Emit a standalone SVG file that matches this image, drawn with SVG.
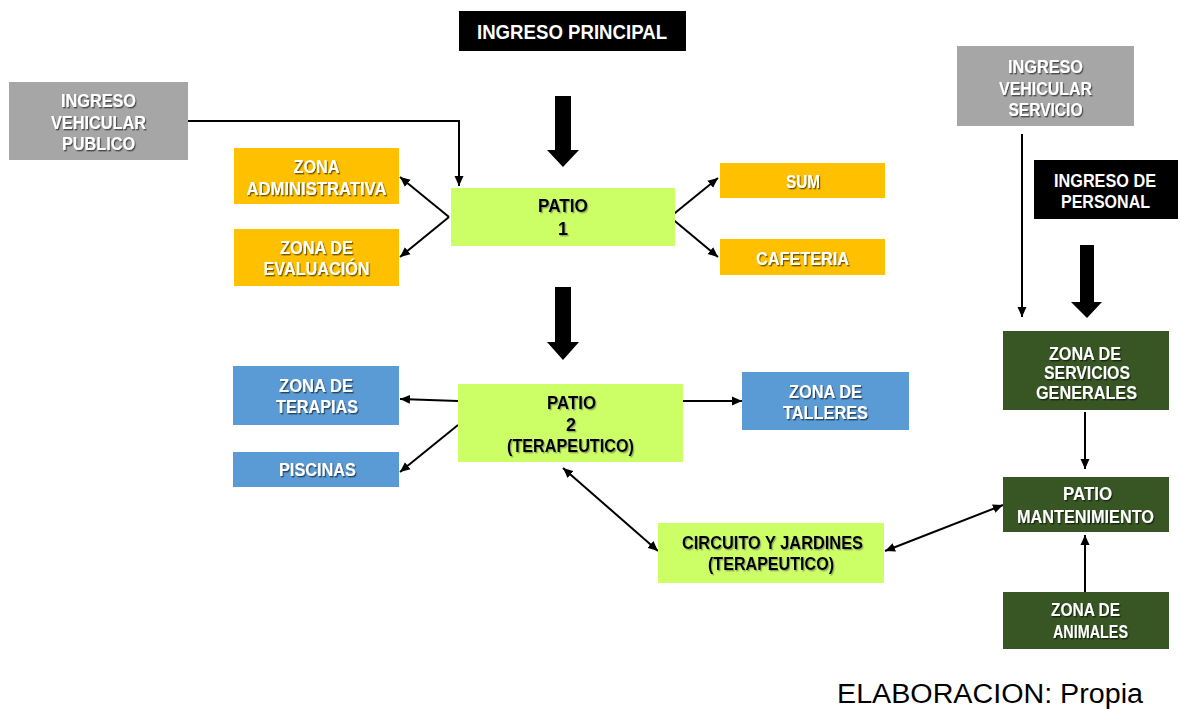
<svg xmlns="http://www.w3.org/2000/svg" width="1180" height="709" viewBox="0 0 1180 709">
<style>
text{font-family:"Liberation Sans",Arial,sans-serif;font-weight:bold;text-anchor:middle;font-size:18px}
.w{fill:#ffffff;filter:url(#shw)}
.k{fill:#000000;filter:url(#shk)}
.grey{fill:#a6a6a6}
.org{fill:#ffc000}
.lime{fill:#ccff66}
.blue{fill:#5b9bd5}
.dg{fill:#375623}
.blk{fill:#000000}
.con{stroke:#000;stroke-width:2;fill:none}
.big{fill:#000}
</style>
<defs>
<filter id="shw" x="-10%" y="-30%" width="130%" height="170%">
<feDropShadow dx="1.2" dy="1.4" stdDeviation="0.7" flood-color="#000" flood-opacity="0.55"/>
</filter>
<filter id="shk" x="-10%" y="-30%" width="130%" height="170%">
<feDropShadow dx="1.2" dy="1.4" stdDeviation="0.7" flood-color="#555" flood-opacity="0.5"/>
</filter>
<marker id="ah" markerUnits="userSpaceOnUse" markerWidth="11" markerHeight="10" refX="10" refY="5" orient="auto-start-reverse" viewBox="0 0 11 10">
<path d="M0,0.5 L10,5 L0,9.5 z" fill="#000"/>
</marker>
</defs>
<rect width="1180" height="709" fill="#ffffff"/>

<g id="connectors">
<polyline class="con" points="188,121 459,121 459,186" marker-end="url(#ah)"/>
<line class="con" x1="449" y1="217" x2="400" y2="177" marker-end="url(#ah)"/>
<line class="con" x1="449" y1="217" x2="400" y2="257" marker-end="url(#ah)"/>
<line class="con" x1="670" y1="217" x2="718" y2="178" marker-end="url(#ah)"/>
<line class="con" x1="670" y1="217" x2="718" y2="257" marker-end="url(#ah)"/>
<line class="con" x1="1022" y1="134" x2="1022" y2="317" stroke-width="1.6" marker-end="url(#ah)"/>
<line class="con" x1="458" y1="401" x2="400" y2="399" marker-end="url(#ah)"/>
<line class="con" x1="458" y1="425" x2="400" y2="472" marker-end="url(#ah)"/>
<line class="con" x1="683" y1="401" x2="742" y2="401" marker-end="url(#ah)"/>
<line class="con" x1="563" y1="468" x2="658" y2="551" marker-start="url(#ah)" marker-end="url(#ah)"/>
<line class="con" x1="885" y1="551" x2="1003" y2="505" marker-start="url(#ah)" marker-end="url(#ah)"/>
<line class="con" x1="1085" y1="412" x2="1085" y2="469" marker-end="url(#ah)"/>
<line class="con" x1="1085" y1="592" x2="1085" y2="535" marker-end="url(#ah)"/>
<polygon class="big" points="555,96 571,96 571,150 579,150 563,167 547,150 555,150"/>
<polygon class="big" points="555,287 571,287 571,342 579,342 563,360 547,342 555,342"/>
<polygon class="big" points="1080,245 1094,245 1094,302 1102,302 1087,318 1071,302 1080,302"/>
</g>

<g id="ingreso-principal">
<rect class="blk" x="459" y="11" width="227" height="40"/>
<text x="572" y="38.5" style="font-size:20px;fill:#fff" textLength="190" lengthAdjust="spacingAndGlyphs">INGRESO PRINCIPAL</text>
</g>

<g id="ingreso-vehicular-publico">
<rect class="grey" x="9" y="82" width="179" height="78"/>
<text class="w" x="98.5" y="106.5" textLength="75" lengthAdjust="spacingAndGlyphs">INGRESO</text>
<text class="w" x="98.5" y="128.5" textLength="95" lengthAdjust="spacingAndGlyphs">VEHICULAR</text>
<text class="w" x="98.5" y="149.5" textLength="73" lengthAdjust="spacingAndGlyphs">PUBLICO</text>
</g>

<g id="zona-administrativa">
<rect class="org" x="234" y="148" width="165" height="56"/>
<text class="w" x="316.5" y="172.5" textLength="46" lengthAdjust="spacingAndGlyphs">ZONA</text>
<text class="w" x="316.5" y="194.5" textLength="140" lengthAdjust="spacingAndGlyphs">ADMINISTRATIVA</text>
</g>

<g id="zona-evaluacion">
<rect class="org" x="234" y="229" width="165" height="57"/>
<text class="w" x="316.5" y="253.5" textLength="73" lengthAdjust="spacingAndGlyphs">ZONA DE</text>
<text class="w" x="316.5" y="274.5" textLength="106" lengthAdjust="spacingAndGlyphs">EVALUACIÓN</text>
</g>

<g id="patio-1">
<rect class="lime" x="451" y="188" width="224" height="58"/>
<text class="k" x="563" y="211.5" textLength="50" lengthAdjust="spacingAndGlyphs">PATIO</text>
<text class="k" x="563" y="234.5">1</text>
</g>

<g id="sum">
<rect class="org" x="720" y="163" width="165" height="35"/>
<text class="w" x="803" y="187.5" textLength="34" lengthAdjust="spacingAndGlyphs">SUM</text>
</g>

<g id="cafeteria">
<rect class="org" x="720" y="239" width="165" height="36"/>
<text class="w" x="802.5" y="264.5" textLength="93" lengthAdjust="spacingAndGlyphs">CAFETERIA</text>
</g>

<g id="ingreso-vehicular-servicio">
<rect class="grey" x="957" y="46" width="177" height="80"/>
<text class="w" x="1045.5" y="72.5" textLength="75" lengthAdjust="spacingAndGlyphs">INGRESO</text>
<text class="w" x="1045.5" y="94.5" textLength="93" lengthAdjust="spacingAndGlyphs">VEHICULAR</text>
<text class="w" x="1045.5" y="115.5" textLength="74" lengthAdjust="spacingAndGlyphs">SERVICIO</text>
</g>

<g id="ingreso-de-personal">
<rect class="blk" x="1034" y="160" width="144" height="59"/>
<text x="1105" y="186.5" style="fill:#fff" textLength="102" lengthAdjust="spacingAndGlyphs">INGRESO DE</text>
<text x="1105.5" y="207.5" style="fill:#fff" textLength="89" lengthAdjust="spacingAndGlyphs">PERSONAL</text>
</g>

<g id="zona-servicios-generales">
<rect class="dg" x="1003" y="331" width="166" height="79"/>
<text class="w" x="1085" y="359.5" textLength="72" lengthAdjust="spacingAndGlyphs">ZONA DE</text>
<text class="w" x="1087" y="378.5" textLength="86" lengthAdjust="spacingAndGlyphs">SERVICIOS</text>
<text class="w" x="1086.5" y="398.5" textLength="101" lengthAdjust="spacingAndGlyphs">GENERALES</text>
</g>

<g id="patio-mantenimiento">
<rect class="dg" x="1003" y="477" width="166" height="55"/>
<text class="w" x="1087.5" y="499.5" textLength="49" lengthAdjust="spacingAndGlyphs">PATIO</text>
<text class="w" x="1085.5" y="522.5" textLength="137" lengthAdjust="spacingAndGlyphs">MANTENIMIENTO</text>
</g>

<g id="zona-animales">
<rect class="dg" x="1003" y="592" width="166" height="57"/>
<text class="w" x="1085.5" y="615.5" textLength="69" lengthAdjust="spacingAndGlyphs">ZONA DE</text>
<text class="w" x="1090.5" y="637.5" textLength="75" lengthAdjust="spacingAndGlyphs">ANIMALES</text>
</g>

<g id="zona-terapias">
<rect class="blue" x="233" y="366" width="166" height="59"/>
<text class="w" x="316" y="391.5" textLength="74" lengthAdjust="spacingAndGlyphs">ZONA DE</text>
<text class="w" x="317" y="412.5" textLength="82" lengthAdjust="spacingAndGlyphs">TERAPIAS</text>
</g>

<g id="piscinas">
<rect class="blue" x="233" y="452" width="166" height="35"/>
<text class="w" x="317.5" y="475.5" textLength="77" lengthAdjust="spacingAndGlyphs">PISCINAS</text>
</g>

<g id="patio-2">
<rect class="lime" x="458" y="384" width="225" height="78"/>
<text class="k" x="571.5" y="408.5" textLength="49" lengthAdjust="spacingAndGlyphs">PATIO</text>
<text class="k" x="571" y="430.5">2</text>
<text class="k" x="570.5" y="451.5" textLength="127" lengthAdjust="spacingAndGlyphs">(TERAPEUTICO)</text>
</g>

<g id="zona-talleres">
<rect class="blue" x="742" y="372" width="167" height="58"/>
<text class="w" x="825.5" y="397.5" textLength="73" lengthAdjust="spacingAndGlyphs">ZONA DE</text>
<text class="w" x="825.5" y="418.5" textLength="85" lengthAdjust="spacingAndGlyphs">TALLERES</text>
</g>

<g id="circuito-jardines">
<rect class="lime" x="658" y="523" width="226" height="60"/>
<text class="k" x="772.5" y="548.5" textLength="181" lengthAdjust="spacingAndGlyphs">CIRCUITO Y JARDINES</text>
<text class="k" x="771" y="569.5" textLength="126" lengthAdjust="spacingAndGlyphs">(TERAPEUTICO)</text>
</g>

<g id="footer">
<text x="990" y="703" style="font-weight:normal;font-size:27px;fill:#000" textLength="306" lengthAdjust="spacingAndGlyphs">ELABORACION: Propia</text>
</g>
</svg>
